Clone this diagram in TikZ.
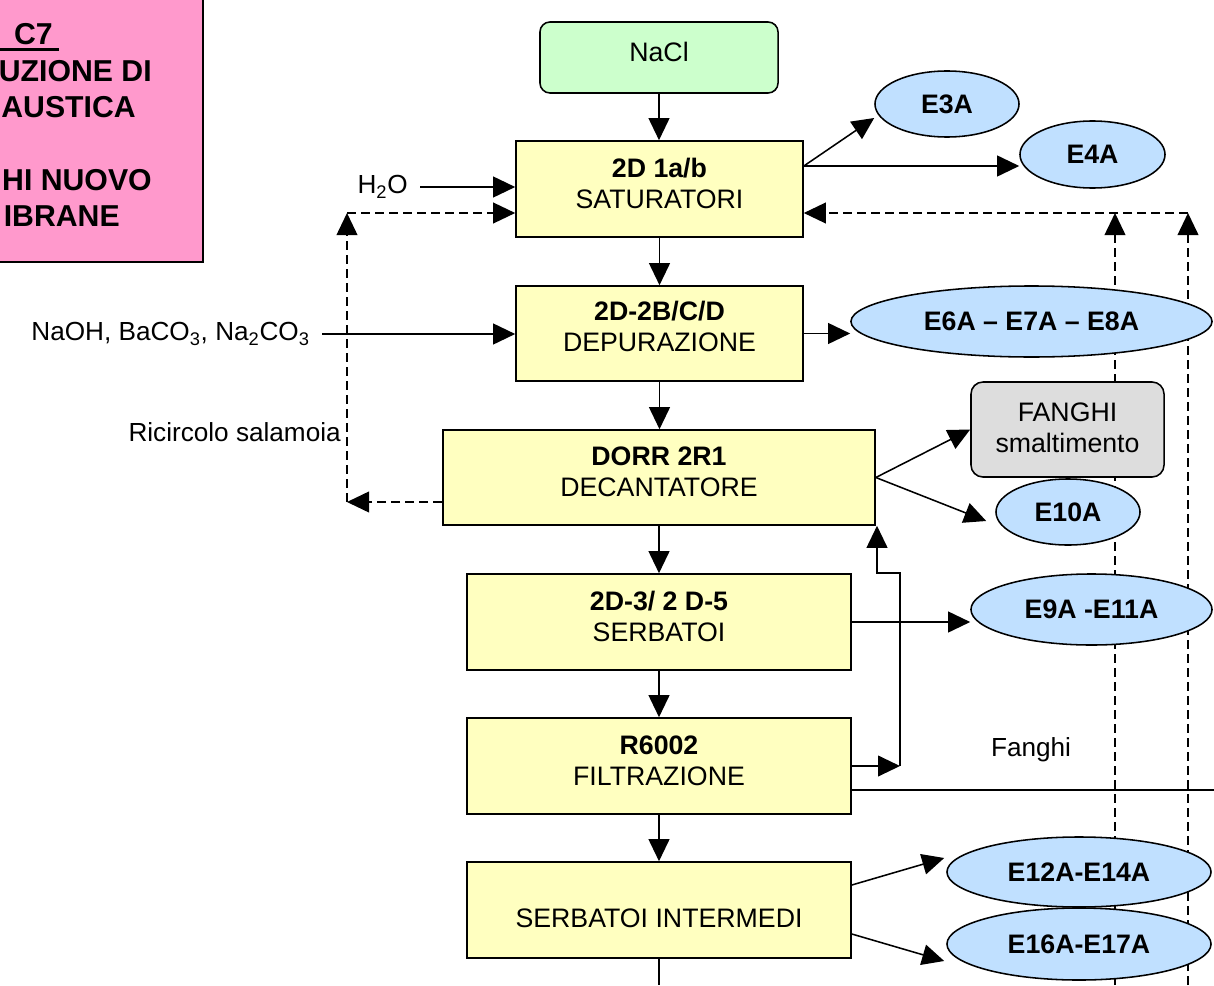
\documentclass[tikz,border=0pt]{standalone}
\usepackage{fontspec}
\setmainfont{Liberation Sans}
\usetikzlibrary{arrows.meta,shapes.geometric}
\pgfdeclarelayer{bg}
\pgfsetlayers{bg,main}
\definecolor{boxyellow}{RGB}{255,255,192}
\definecolor{naclgreen}{RGB}{204,255,204}
\definecolor{ellblue}{RGB}{192,224,255}
\definecolor{fangray}{RGB}{221,221,221}
\definecolor{titlepink}{RGB}{255,153,204}
\begin{document}
\begin{tikzpicture}[x=0.025cm,y=-0.025cm,
  font=\fontsize{19pt}{22pt}\selectfont,
  lw/.style={line width=1.1pt},
  procbox/.style={draw,lw,fill=boxyellow,inner sep=0pt},
  boxtext/.style={align=center,inner sep=0pt},
  freetext/.style={font=\fontsize{18.6pt}{22pt}\selectfont},
  outell/.style={draw,lw,ellipse,fill=ellblue,inner sep=0pt,font=\fontsize{19pt}{22pt}\selectfont\bfseries},
  arr/.style={lw,-{Triangle[length=0.55cm,width=0.52cm]}},
  darr/.style={arr,line width=0.9pt,dash pattern=on 0.22cm off 0.13cm},
  plain/.style={lw},
  titletext/.style={anchor=base east,inner sep=0pt,font=\fontsize{21.5pt}{26pt}\selectfont\bfseries},
]
\useasboundingbox (0,0) rectangle (1214,985);
\clip (0,0) rectangle (1214,985);

% title box (cropped at the left)
\node (title) [draw,lw,fill=titlepink,minimum width=5.575cm,minimum height=7.05cm,inner sep=0pt] at (91.5,121) {};
\node (t1) [titletext] at (53,45) {C7};
\draw[line width=2.2pt] ([shift={(6,4.5)}]t1.base east) -- ++(-80,0);
\node (t2) [titletext] at (152,82) {UZIONE DI};
\node (t3) [titletext] at (136,118) {AUSTICA};
\node (t4) [titletext] at (152,190) {HI NUOVO};
\node (t5) [titletext] at (120,226) {IBRANE};

% process boxes
\node (nacl) [draw,lw,fill=naclgreen,rounded corners=0.25cm,minimum width=5.95cm,minimum height=1.775cm,inner sep=0pt] at (659,57.5) {};
\node (naclt) [boxtext] at ([yshift=0.13cm]nacl.center) {NaCl};
\node (sat) [procbox,minimum width=7.175cm,minimum height=2.4cm] at (659.5,189) {};
\node (satt) [boxtext] at ([yshift=0.15cm]sat.center) {\textbf{2D 1a/b}\\SATURATORI};
\node (dep) [procbox,minimum width=7.175cm,minimum height=2.375cm] at (659.5,333.5) {};
\node (dept) [boxtext] at ([yshift=0.17cm]dep.center) {\textbf{2D-2B/C/D}\\DEPURAZIONE};
\node (dorr) [procbox,minimum width=10.8cm,minimum height=2.375cm] at (659,477.5) {};
\node (dorrt) [boxtext] at ([yshift=0.15cm]dorr.center) {\textbf{DORR 2R1}\\DECANTATORE};
\node (serb) [procbox,minimum width=9.6cm,minimum height=2.4cm] at (659,622) {};
\node (serbt) [boxtext] at ([yshift=0.13cm]serb.center) {\textbf{2D-3/ 2 D-5}\\SERBATOI};
\node (filt) [procbox,minimum width=9.6cm,minimum height=2.4cm] at (659,766) {};
\node (filtt) [boxtext] at ([yshift=0.14cm]filt.center) {\textbf{R6002}\\FILTRAZIONE};
\node (sint) [procbox,minimum width=9.6cm,minimum height=2.4cm] at (659,910) {};
\node (sintt) [boxtext] at ([yshift=-0.2cm]sint.center) {SERBATOI INTERMEDI};
\node (fanghi) [draw,lw,fill=fangray,rounded corners=0.3cm,minimum width=4.825cm,minimum height=2.375cm,inner sep=0pt] at (1067.5,429.5) {};
\node (fanghit) [boxtext] at ([yshift=0.05cm]fanghi.center) {FANGHI\\smaltimento};

% emission ellipses
\node (e3a) [outell,minimum width=3.6cm,minimum height=1.65cm] at (947,104) {E3A};
\node (e4a) [outell,minimum width=3.625cm,minimum height=1.675cm] at (1092.5,154.5) {E4A};
\node (e6a) [outell,minimum width=9.025cm,minimum height=1.775cm] at (1031.5,321.5) {E6A – E7A – E8A};
\node (e10a) [outell,minimum width=3.6cm,minimum height=1.65cm] at (1068,512) {E10A};
\node (e9a) [outell,minimum width=6.025cm,minimum height=1.775cm] at (1091.5,609.5) {E9A -E11A};
\node (e12a) [outell,minimum width=6.6cm,minimum height=1.75cm] at (1079,872) {E12A-E14A};
\node (e16a) [outell,minimum width=6.6cm,minimum height=1.8cm] at (1079,944) {E16A-E17A};

% free labels
\node (h2o) [freetext,anchor=east,inner xsep=0.3cm,inner ysep=0pt] at (420,187) {H\textsubscript{2}O};
\node (naoh) [freetext,anchor=east,inner xsep=0.3cm,inner ysep=0pt] at (322,334) {NaOH, BaCO\textsubscript{3}, Na\textsubscript{2}CO\textsubscript{3}};
\node (ricirc) [freetext,anchor=east,inner sep=0pt] at (341,432) {Ricircolo salamoia};
\node (fanghilbl) [freetext,inner sep=0pt] at (1031,750) {Fanghi};

% coordinates
\coordinate (lc) at (347,502);
\coordinate (lt) at (347,213);
\coordinate (rt1) at (1115,213);
\coordinate (rb1) at (1115,985);
\coordinate (rt2) at (1188,213);
\coordinate (rb2) at (1188,985);
\coordinate (fc) at (900,766);
\coordinate (fu) at (900,573);
\coordinate (fl) at (877,573);
\coordinate (fend) at (1214,790);
\coordinate (bend) at (659,985);

% main vertical flow
\draw[arr] (nacl.south) -- (nacl.south |- sat.north);
\draw[arr] (sat.south) -- (sat.south |- dep.north);
\draw[arr] (dep.south) -- (dep.south |- dorr.north);
\draw[arr] (dorr.south) -- (dorr.south |- serb.north);
\draw[arr] (serb.south) -- (serb.south |- filt.north);
\draw[arr] (filt.south) -- (filt.south |- sint.north);
\draw[plain] (sint.south) -- (bend);

% inputs
\draw[arr] (h2o.east) -- (sat.west |- h2o.east);
\draw[arr] (naoh.east) -- (dep.west |- naoh.east);

% emissions
\draw[arr] (sat.east |- 0,166) -- ([shift={(0,14)}]e3a.west);
\draw[arr] (sat.east |- 0,166) -- (e4a.west |- 0,166);
\draw[arr] (dep.east) -- (dep.east -| e6a.west);
\draw[arr] (dorr.east) -- (fanghi.west);
\draw[arr] (dorr.east) -- ([shift={(-9,9)}]e10a.west);
\draw[arr] (serb.east) -- (serb.east -| e9a.west);
\draw[arr] (sint.east |- 0,885) -- ([shift={(-2,-14)}]e12a.west);
\draw[arr] (sint.east |- 0,934) -- ([shift={(-2,17)}]e16a.west);

% filtration recycle and sludge line
\draw[arr] (filt.east) -- (fc);
\draw[arr] (fc) -- (fu) -- (fl) -- (fl |- dorr.south);
\draw[plain] (filt.east |- fend) -- (fend);

% brine recirculation (left)
\draw[darr] (dorr.west |- lc) -- (lc);
\draw[darr] (lc) -- (lt);
\draw[darr] (lt) -- (sat.west |- lt);

% return lines (right), behind the ellipses
\begin{pgfonlayer}{bg}
\draw[darr] (rb1) -- (rt1);
\draw[darr] (rb2) -- (rt2);
\draw[darr] (rt2) -- (sat.east |- rt2);
\end{pgfonlayer}
\end{tikzpicture}
\end{document}
